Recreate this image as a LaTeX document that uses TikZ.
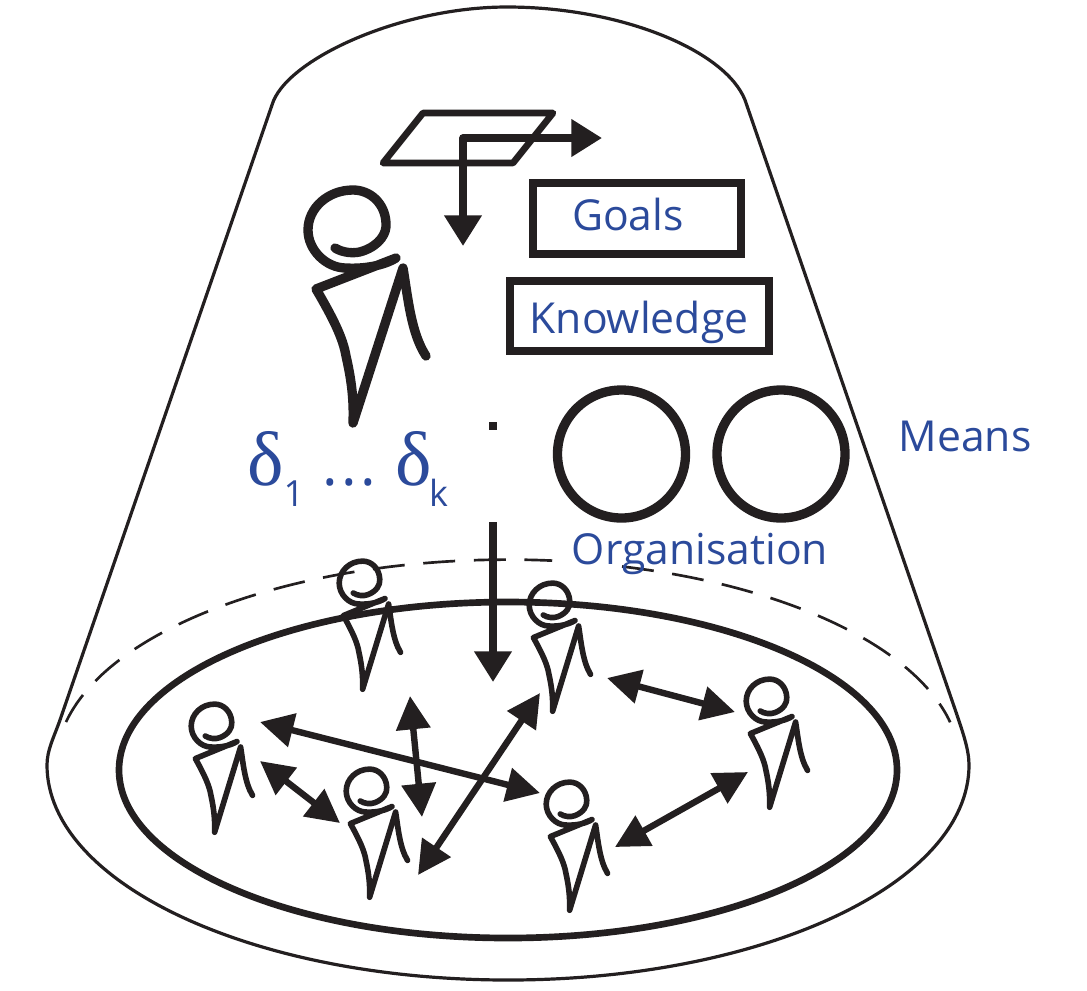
\documentclass[tikz,border=0pt]{standalone}
\usepackage{fontspec}
\setmainfont{Open Sans}
\newfontfamily\greekfont{Liberation Serif}
\usetikzlibrary{arrows.meta}
\definecolor{labelblue}{HTML}{2B4A9B}
\definecolor{inkblack}{HTML}{231F20}
\tikzset{
  flow/.style={-{Triangle[length=23, width=27]}, draw=inkblack, line width=5.5},
  biflow/.style={flow, line width=4.8, {Triangle[length=25, width=25]}-{Triangle[length=25, width=25]}},
  bigflow/.style={flow, {Triangle[length=23, width=27]}-{Triangle[length=23, width=27]}},
  box/.style={draw=inkblack, line width=6, inner sep=0, anchor=center},
  ring/.style={draw=inkblack, circle, line width=7, inner sep=0, minimum size=96},
  label/.style={text=labelblue, font=\fontsize{32}{32}\selectfont, inner sep=0},
  rim/.style={inkblack, line width=2, dash pattern=on 24 off 14},
  smallp/.style={xscale=.52, yscale=.55, line width=4.2},
  bigp/.style={line width=7},
  person/.pic={
    \draw[inkblack, line cap=round, line join=round]
      (-13,20) .. controls (-5,25) and (7,26) .. (15,23)
      .. controls (32,17) and (39,5) .. (38,-5)
      .. controls (37,-25) and (22,-38) .. (5,-38)
      .. controls (-20,-38) and (-40,-20) .. (-40,2)
      .. controls (-40,22) and (-22,40) .. (-2,40)
      .. controls (15,41) and (35,38) .. (48,30)
      -- (-32,61)
      .. controls (-15,90) and (-5,110) .. (-2,128)
      .. controls (3,150) and (6,170) .. (5,195)
      -- (55,40)
      .. controls (60,70) and (63,105) .. (78,128);
  }
}
\begin{document}
\begin{tikzpicture}[x=.75pt, y=-.75pt]
    \useasboundingbox (0,0) rectangle (1087,990);
    % cone
    \draw[inkblack, line width=2.4] (60,720) -- (272,105)
      .. controls (285,60) and (400,7) .. (507,7)
      .. controls (620,7) and (725,50) .. (745,100) -- (957,715);
    \draw[inkblack, line width=2.4] (60,720)
      .. controls (54,737) and (47,750) .. (47,765)
      arc [start angle=180, end angle=0, x radius=461, y radius=215]
      .. controls (969,750) and (963,733) .. (957,715);
    \draw[rim] (66,722)
      arc [start angle=192, end angle=275.6, x radius=452, y radius=205];
    \draw[rim] (622,566.5)
      arc [start angle=284.6, end angle=348, x radius=452, y radius=205];
    \draw[inkblack, line width=5] (508,770) ellipse [x radius=389, y radius=168];
    % leader
    \draw[inkblack, line width=5, line join=round] (423,113) -- (553,113) -- (513,163) -- (383,163) -- cycle;
    \coordinate (corner) at (463,138);
    \coordinate (east) at (602,138);
    \coordinate (south) at (463,246);
    \draw[bigflow, line join=round] (south) -- (corner) -- (east);
    \pic[bigp] at (348,228) {person};
    \node[box, minimum width=156, minimum height=53] (goalsbox) at (637,218.5) {};
    \node[label] (goals) at (628,214) {Goals};
    \node[box, minimum width=194.5, minimum height=52.5] (knowbox) at (639.5,316) {};
    \node[label] (knowledge) at (639,322) {Knowledge};
    \node[ring] (orgleft) at (621.5,454) {};
    \node[ring] (orgright) at (781,454) {};
    \node[label] (organisation) at (700,554) {Organisation};
    \node[label] (means) at (965,436) {Means};
    \node[label, anchor=base west] (deltas) at (247,485) {{\greekfont\fontsize{58}{58}\selectfont δ}\raisebox{-16pt}{\fontsize{27}{27}\selectfont 1}\kern14pt{\fontsize{44}{44}\selectfont .\kern2.3pt.\kern2.3pt.}\kern14.5pt{\greekfont\fontsize{58}{58}\selectfont δ}\kern-2pt\raisebox{-16pt}{\fontsize{27}{27}\selectfont k}};
    \node[fill=inkblack, minimum size=6.5, inner sep=0] (dot) at (493,426) {};
    \coordinate (dropstart) at (493,522);
    \coordinate (dropend) at (493,682);
    \draw[flow] (dropstart) -- (dropend);
    % people
    \pic[smallp] at (360,582) {person};
    \pic[smallp] at (550,604) {person};
    \pic[smallp] at (212,725) {person};
    \pic[smallp] at (367,790) {person};
    \pic[smallp] at (567,803) {person};
    \pic[smallp] at (767,700) {person};
    % exchanges
    \coordinate (a1) at (260,722);
    \coordinate (a2) at (540,793);
    \coordinate (b1) at (260,761);
    \coordinate (b2) at (340,823);
    \coordinate (c1) at (410,696);
    \coordinate (c2) at (422,817);
    \coordinate (d1) at (418,875);
    \coordinate (d2) at (540,693);
    \coordinate (e1) at (607,678);
    \coordinate (e2) at (735,712);
    \coordinate (f1) at (615,847);
    \coordinate (f2) at (748,772);
    \draw[biflow] (a1) -- (a2);
    \draw[biflow] (b1) -- (b2);
    \draw[biflow] (c1) -- (c2);
    \draw[biflow] (d1) -- (d2);
    \draw[biflow] (e1) -- (e2);
    \draw[biflow] (f1) -- (f2);
\end{tikzpicture}
\end{document}
